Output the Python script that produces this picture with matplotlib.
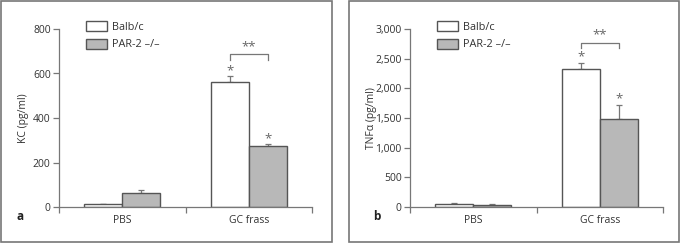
import matplotlib.pyplot as plt
from matplotlib.patches import Rectangle
from matplotlib.ticker import FuncFormatter
import numpy as np

# ----------------------------
# Data
# ----------------------------
groups = ["PBS", "GC frass"]
series = ["Balb/c", "PAR-2 \u2013/\u2013"]

kc_balb = [13, 560]
kc_balb_err = [2, 30]
kc_par = [62, 272]
kc_par_err = [13, 10]

tnf_balb = [50, 2320]
tnf_balb_err = [12, 100]
tnf_par = [40, 1480]
tnf_par_err = [8, 240]

plt.rcParams.update({"font.family": ["Open Sans", "DejaVu Sans"], "font.size": 7.5})

W, H = 681, 243
fig = plt.figure(figsize=(W / 100, H / 100), dpi=100)

axis_col = "#777777"
edge_col = "#555555"
fill_col = "#b8b8b8"
star_col = "#666666"


def px_axes(x0, x1, ytop, ybot):
    return fig.add_axes([x0 / W, 1 - ybot / H, (x1 - x0) / W, (ybot - ytop) / H])


def panel(ax, balb, balb_err, par, par_err, ymax, ystep, ylabel, label_x, letter, letter_x,
          star_y, bracket):
    x = np.arange(len(groups))
    w = 0.3
    ax.bar(x - w / 2, balb, w, color="white", edgecolor=edge_col, linewidth=1.0, label=series[0], zorder=2)
    ax.bar(x + w / 2, par, w, color=fill_col, edgecolor=edge_col, linewidth=1.0, label=series[1], zorder=2)
    ax.errorbar(x - w / 2, balb, yerr=[np.zeros(2), balb_err], fmt="none", ecolor=axis_col,
                elinewidth=0.9, capsize=2.2, capthick=0.9, zorder=1)
    ax.errorbar(x + w / 2, par, yerr=[np.zeros(2), par_err], fmt="none", ecolor=axis_col,
                elinewidth=0.9, capsize=2.2, capthick=0.9, zorder=1)

    ax.set_xlim(-0.5, 1.5)
    ax.set_ylim(0, ymax)
    ax.set_yticks(np.arange(0, ymax + 1, ystep))
    ax.yaxis.set_major_formatter(FuncFormatter(lambda v, p: f"{int(v):,}"))
    ax.set_xticks(x)
    ax.set_xticklabels(groups)
    ax.set_xticks([-0.5, 0.5, 1.5], minor=True)
    ax.tick_params(axis="x", which="major", length=0, pad=6, colors="#333333")
    ax.tick_params(axis="x", which="minor", length=4, width=0.9, color=axis_col, direction="out")
    ax.tick_params(axis="y", length=4, width=0.9, color=axis_col, labelcolor="#333333", pad=2)
    for s in ["top", "right"]:
        ax.spines[s].set_visible(False)
    for s in ["left", "bottom"]:
        ax.spines[s].set_color(axis_col)
        ax.spines[s].set_linewidth(0.9)
    ax.set_ylabel(ylabel, color="#333333")
    ax.yaxis.set_label_coords(label_x, 0.5)

    # significance marks
    ax.text(1 - w / 2, star_y[0], "*", ha="center", va="center", fontsize=9.5, color=star_col)
    ax.text(1 + w / 2, star_y[1], "*", ha="center", va="center", fontsize=9.5, color=star_col)
    top, drop, txt = bracket
    ax.plot([1 - w / 2, 1 - w / 2, 1 + w / 2, 1 + w / 2], [drop, top, top, drop],
            color=axis_col, linewidth=0.9, clip_on=False)
    ax.text(1, txt, "**", ha="center", va="center", fontsize=9.5, color=star_col)

    ax.text(letter_x, -0.056, letter, transform=ax.transAxes, fontsize=8.5, fontweight="bold",
            ha="center", va="center", color="#222222")

    leg = ax.legend(loc="upper left", bbox_to_anchor=(0.088, 1.07), frameon=False, fontsize=7.8,
                    handlelength=2.0, handleheight=1.05, labelspacing=0.55, handletextpad=0.45,
                    borderaxespad=0)
    for t in leg.get_texts():
        t.set_color("#333333")


ax1 = px_axes(59, 312, 29, 207)
panel(ax1, kc_balb, kc_balb_err, kc_par, kc_par_err, 800, 200, "KC (pg/ml)", -0.12, "a", -0.154,
      (614, 307), (686, 662, 720))

ax2 = px_axes(410, 663, 29, 207)
panel(ax2, tnf_balb, tnf_balb_err, tnf_par, tnf_par_err, 3000, 500, "TNF\u03b1 (pg/ml)", -0.13, "b", -0.13,
      (2525, 1830), (2769, 2680, 2895))

# panel frames
for x0, x1 in [(1, 332), (349, 679)]:
    fig.patches.append(Rectangle((x0 / W, 1 / H), (x1 - x0) / W, (H - 2.5) / H,
                                 transform=fig.transFigure, fill=False,
                                 edgecolor="#777777", linewidth=1.2))

fig.savefig("out.png", dpi=100)
